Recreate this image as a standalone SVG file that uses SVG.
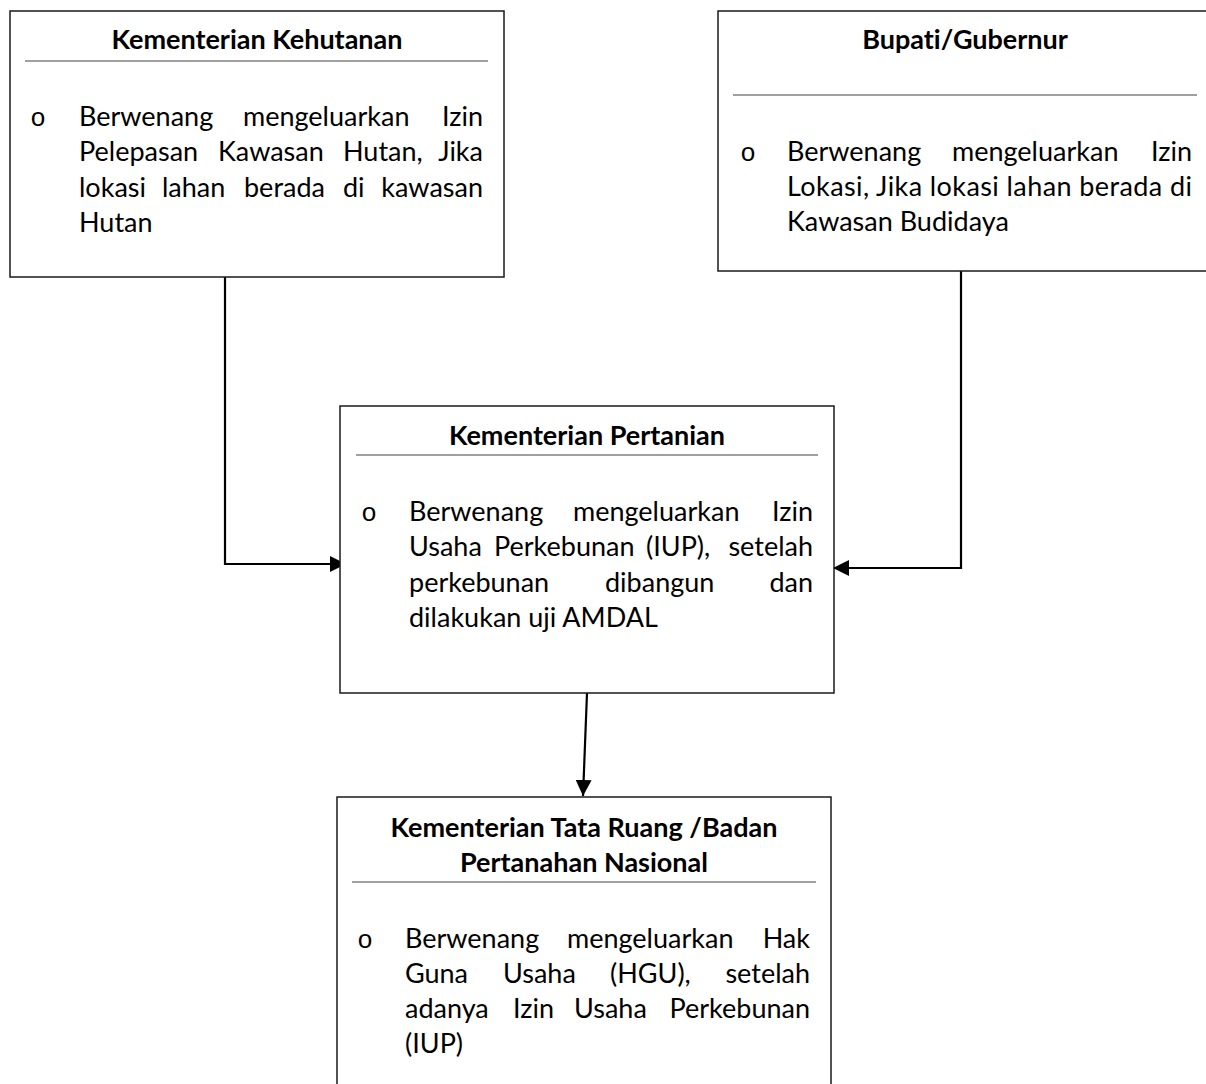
<svg xmlns="http://www.w3.org/2000/svg" width="1206" height="1084" viewBox="0 0 1206 1084">
<style>
text{font-variant-ligatures:none}
.box{fill:#fff;stroke:#1a1a1a;stroke-width:1.5}
.sep{stroke:#808080;stroke-width:1.5}
.title{font-family:Lato,"Noto Sans",sans-serif;font-weight:bold;font-size:27px;fill:#000;text-anchor:middle}
.body{font-family:Lato,"Noto Sans",sans-serif;font-size:27px;fill:#000}
.bul{font-family:"Liberation Mono",monospace;font-size:26px;fill:#000;text-anchor:middle}
.end{text-anchor:end}
.conn{fill:none;stroke:#000;stroke-width:2.2}
</style>
<defs>
<marker id="arr" viewBox="0 0 10 10" refX="10" refY="5" markerWidth="16" markerHeight="16" markerUnits="userSpaceOnUse" orient="auto">
<path d="M0,0 L10,5 L0,10 z" fill="#000"/>
</marker>
</defs>
<g id="connectors">
<path class="conn" d="M225,277 L225,564 L346,564" marker-end="url(#arr)"/>
<path class="conn" d="M961,271 L961,568 L833,568" marker-end="url(#arr)"/>
<path class="conn" d="M587,693 L583,796" marker-end="url(#arr)"/>
</g>
<g id="kehutanan">
<rect class="box" x="10" y="11" width="494" height="266"/>
<text class="title" x="257" y="49">Kementerian Kehutanan</text>
<line class="sep" x1="25" y1="61" x2="488" y2="61"/>
<text class="bul" x="38" y="126">o</text>
<text class="body" y="126"><tspan x="79">Berwenang</tspan><tspan x="243">mengeluarkan</tspan><tspan x="483" class="end">Izin</tspan></text>
<text class="body" y="161"><tspan x="79">Pelepasan</tspan><tspan x="218">Kawasan</tspan><tspan x="343">Hutan,</tspan><tspan x="483" class="end">Jika</tspan></text>
<text class="body" y="197"><tspan x="79">lokasi</tspan><tspan x="162">lahan</tspan><tspan x="244">berada</tspan><tspan x="343">di</tspan><tspan x="483" class="end">kawasan</tspan></text>
<text class="body" x="79" y="232">Hutan</text>
</g>
<g id="bupati">
<rect class="box" x="718" y="11" width="500" height="260"/>
<text class="title" x="965" y="49">Bupati/Gubernur</text>
<line class="sep" x1="733" y1="95" x2="1197" y2="95"/>
<text class="bul" x="748" y="161">o</text>
<text class="body" y="161"><tspan x="787">Berwenang</tspan><tspan x="952">mengeluarkan</tspan><tspan x="1192" class="end">Izin</tspan></text>
<text class="body" x="787" y="196" textLength="405" lengthAdjust="spacing">Lokasi, Jika lokasi lahan berada di</text>
<text class="body" x="787" y="231">Kawasan Budidaya</text>
</g>
<g id="pertanian">
<rect class="box" x="340" y="406" width="494" height="287"/>
<text class="title" x="587" y="445">Kementerian Pertanian</text>
<line class="sep" x1="356" y1="455" x2="818" y2="455"/>
<text class="bul" x="369" y="521">o</text>
<text class="body" y="521"><tspan x="409">Berwenang</tspan><tspan x="573">mengeluarkan</tspan><tspan x="813" class="end">Izin</tspan></text>
<text class="body" y="556"><tspan x="409">Usaha</tspan><tspan x="494">Perkebunan</tspan><tspan x="646">(IUP),</tspan><tspan x="813" class="end">setelah</tspan></text>
<text class="body" y="592"><tspan x="409">perkebunan</tspan><tspan x="605">dibangun</tspan><tspan x="813" class="end">dan</tspan></text>
<text class="body" x="409" y="627">dilakukan uji AMDAL</text>
</g>
<g id="tata-ruang">
<rect class="box" x="337" y="797" width="494" height="300"/>
<text class="title" x="584" y="837">Kementerian Tata Ruang /Badan</text>
<text class="title" x="584" y="872">Pertanahan Nasional</text>
<line class="sep" x1="352" y1="882" x2="816" y2="882"/>
<text class="bul" x="365" y="948">o</text>
<text class="body" y="948"><tspan x="405">Berwenang</tspan><tspan x="567">mengeluarkan</tspan><tspan x="810" class="end">Hak</tspan></text>
<text class="body" y="983"><tspan x="405">Guna</tspan><tspan x="503">Usaha</tspan><tspan x="610">(HGU),</tspan><tspan x="810" class="end">setelah</tspan></text>
<text class="body" y="1018"><tspan x="405">adanya</tspan><tspan x="513">Izin</tspan><tspan x="574">Usaha</tspan><tspan x="810" class="end">Perkebunan</tspan></text>
<text class="body" x="405" y="1053">(IUP)</text>
</g>
</svg>
